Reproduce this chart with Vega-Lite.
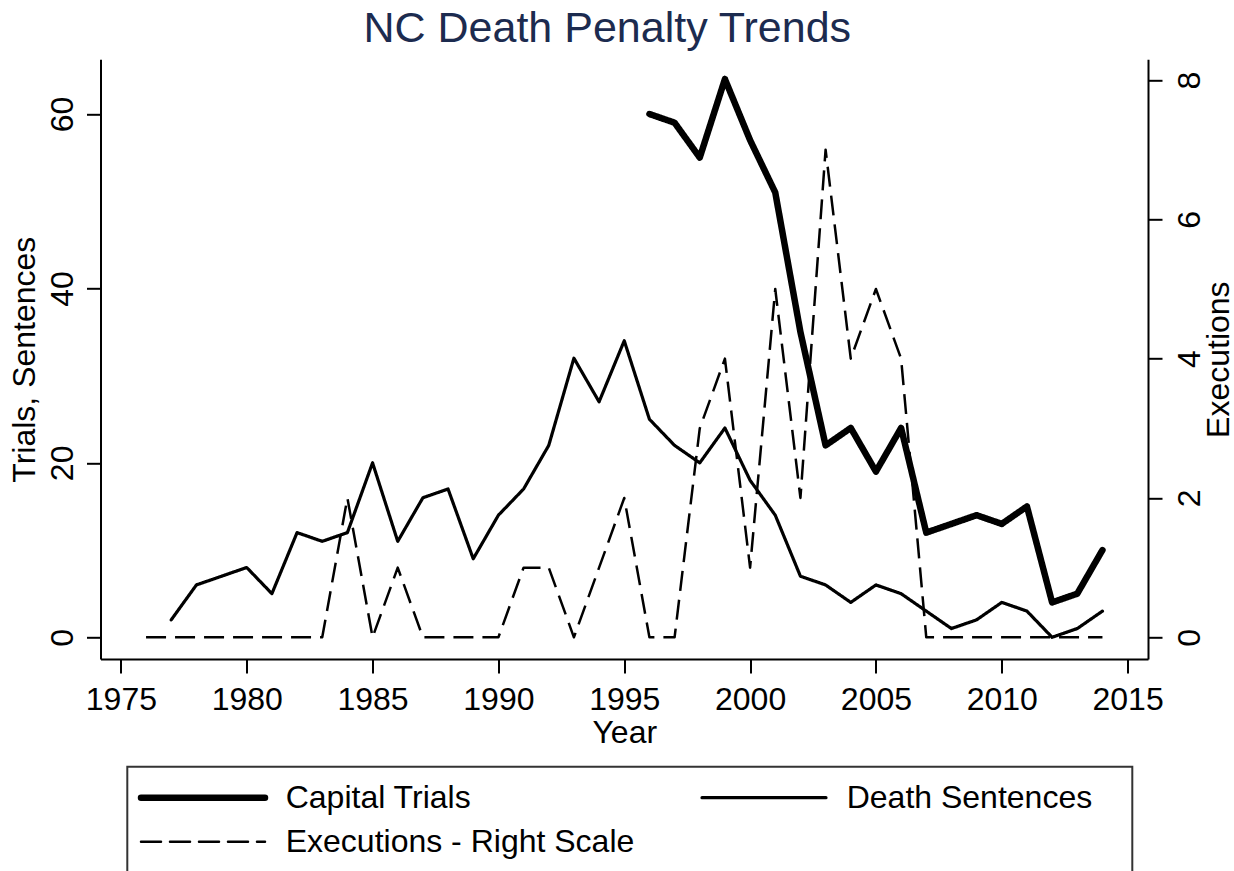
{
  "$schema": "https://vega.github.io/schema/vega-lite/v6.json",
  "width": 1047.5,
  "height": 599.7,
  "autosize": {"type": "none"},
  "padding": {"left": 100.5, "top": 59.3, "right": 86, "bottom": 212},
  "background": "white",
  "title": {
    "text": "NC Death Penalty Trends",
    "font": "Liberation Sans",
    "fontSize": 43,
    "fontWeight": "normal",
    "color": "#1c2b4f",
    "anchor": "middle",
    "frame": "group",
    "baseline": "alphabetic",
    "offset": -26,
    "dx": -17
  },
  "datasets": {
    "left": [
      {"year": 1996, "series": "Capital Trials", "value": 60},
      {"year": 1997, "series": "Capital Trials", "value": 59},
      {"year": 1998, "series": "Capital Trials", "value": 55},
      {"year": 1999, "series": "Capital Trials", "value": 64},
      {"year": 2000, "series": "Capital Trials", "value": 57},
      {"year": 2001, "series": "Capital Trials", "value": 51},
      {"year": 2002, "series": "Capital Trials", "value": 35},
      {"year": 2003, "series": "Capital Trials", "value": 22},
      {"year": 2004, "series": "Capital Trials", "value": 24},
      {"year": 2005, "series": "Capital Trials", "value": 19},
      {"year": 2006, "series": "Capital Trials", "value": 24},
      {"year": 2007, "series": "Capital Trials", "value": 12},
      {"year": 2008, "series": "Capital Trials", "value": 13},
      {"year": 2009, "series": "Capital Trials", "value": 14},
      {"year": 2010, "series": "Capital Trials", "value": 13},
      {"year": 2011, "series": "Capital Trials", "value": 15},
      {"year": 2012, "series": "Capital Trials", "value": 4},
      {"year": 2013, "series": "Capital Trials", "value": 5},
      {"year": 2014, "series": "Capital Trials", "value": 10},
      {"year": 1977, "series": "Death Sentences", "value": 2},
      {"year": 1978, "series": "Death Sentences", "value": 6},
      {"year": 1979, "series": "Death Sentences", "value": 7},
      {"year": 1980, "series": "Death Sentences", "value": 8},
      {"year": 1981, "series": "Death Sentences", "value": 5},
      {"year": 1982, "series": "Death Sentences", "value": 12},
      {"year": 1983, "series": "Death Sentences", "value": 11},
      {"year": 1984, "series": "Death Sentences", "value": 12},
      {"year": 1985, "series": "Death Sentences", "value": 20},
      {"year": 1986, "series": "Death Sentences", "value": 11},
      {"year": 1987, "series": "Death Sentences", "value": 16},
      {"year": 1988, "series": "Death Sentences", "value": 17},
      {"year": 1989, "series": "Death Sentences", "value": 9},
      {"year": 1990, "series": "Death Sentences", "value": 14},
      {"year": 1991, "series": "Death Sentences", "value": 17},
      {"year": 1992, "series": "Death Sentences", "value": 22},
      {"year": 1993, "series": "Death Sentences", "value": 32},
      {"year": 1994, "series": "Death Sentences", "value": 27},
      {"year": 1995, "series": "Death Sentences", "value": 34},
      {"year": 1996, "series": "Death Sentences", "value": 25},
      {"year": 1997, "series": "Death Sentences", "value": 22},
      {"year": 1998, "series": "Death Sentences", "value": 20},
      {"year": 1999, "series": "Death Sentences", "value": 24},
      {"year": 2000, "series": "Death Sentences", "value": 18},
      {"year": 2001, "series": "Death Sentences", "value": 14},
      {"year": 2002, "series": "Death Sentences", "value": 7},
      {"year": 2003, "series": "Death Sentences", "value": 6},
      {"year": 2004, "series": "Death Sentences", "value": 4},
      {"year": 2005, "series": "Death Sentences", "value": 6},
      {"year": 2006, "series": "Death Sentences", "value": 5},
      {"year": 2007, "series": "Death Sentences", "value": 3},
      {"year": 2008, "series": "Death Sentences", "value": 1},
      {"year": 2009, "series": "Death Sentences", "value": 2},
      {"year": 2010, "series": "Death Sentences", "value": 4},
      {"year": 2011, "series": "Death Sentences", "value": 3},
      {"year": 2012, "series": "Death Sentences", "value": 0},
      {"year": 2013, "series": "Death Sentences", "value": 1},
      {"year": 2014, "series": "Death Sentences", "value": 3}
    ],
    "right": [
      {"year": 1976, "series": "Executions - Right Scale", "value": 0},
      {"year": 1977, "series": "Executions - Right Scale", "value": 0},
      {"year": 1978, "series": "Executions - Right Scale", "value": 0},
      {"year": 1979, "series": "Executions - Right Scale", "value": 0},
      {"year": 1980, "series": "Executions - Right Scale", "value": 0},
      {"year": 1981, "series": "Executions - Right Scale", "value": 0},
      {"year": 1982, "series": "Executions - Right Scale", "value": 0},
      {"year": 1983, "series": "Executions - Right Scale", "value": 0},
      {"year": 1984, "series": "Executions - Right Scale", "value": 2},
      {"year": 1985, "series": "Executions - Right Scale", "value": 0},
      {"year": 1986, "series": "Executions - Right Scale", "value": 1},
      {"year": 1987, "series": "Executions - Right Scale", "value": 0},
      {"year": 1988, "series": "Executions - Right Scale", "value": 0},
      {"year": 1989, "series": "Executions - Right Scale", "value": 0},
      {"year": 1990, "series": "Executions - Right Scale", "value": 0},
      {"year": 1991, "series": "Executions - Right Scale", "value": 1},
      {"year": 1992, "series": "Executions - Right Scale", "value": 1},
      {"year": 1993, "series": "Executions - Right Scale", "value": 0},
      {"year": 1994, "series": "Executions - Right Scale", "value": 1},
      {"year": 1995, "series": "Executions - Right Scale", "value": 2},
      {"year": 1996, "series": "Executions - Right Scale", "value": 0},
      {"year": 1997, "series": "Executions - Right Scale", "value": 0},
      {"year": 1998, "series": "Executions - Right Scale", "value": 3},
      {"year": 1999, "series": "Executions - Right Scale", "value": 4},
      {"year": 2000, "series": "Executions - Right Scale", "value": 1},
      {"year": 2001, "series": "Executions - Right Scale", "value": 5},
      {"year": 2002, "series": "Executions - Right Scale", "value": 2},
      {"year": 2003, "series": "Executions - Right Scale", "value": 7},
      {"year": 2004, "series": "Executions - Right Scale", "value": 4},
      {"year": 2005, "series": "Executions - Right Scale", "value": 5},
      {"year": 2006, "series": "Executions - Right Scale", "value": 4},
      {"year": 2007, "series": "Executions - Right Scale", "value": 0},
      {"year": 2008, "series": "Executions - Right Scale", "value": 0},
      {"year": 2009, "series": "Executions - Right Scale", "value": 0},
      {"year": 2010, "series": "Executions - Right Scale", "value": 0},
      {"year": 2011, "series": "Executions - Right Scale", "value": 0},
      {"year": 2012, "series": "Executions - Right Scale", "value": 0},
      {"year": 2013, "series": "Executions - Right Scale", "value": 0},
      {"year": 2014, "series": "Executions - Right Scale", "value": 0}
    ]
  },
  "layer": [
    {
      "data": {"name": "left"},
      "mark": {"type": "line", "strokeCap": "round", "strokeJoin": "round", "color": "black"},
      "encoding": {
        "x": {
          "field": "year",
          "type": "quantitative",
          "scale": {"domain": [1974.19, 2015.81], "nice": false, "zero": false},
          "axis": {
            "values": [1975, 1980, 1985, 1990, 1995, 2000, 2005, 2010, 2015],
            "format": "d",
            "title": "Year",
            "labelAngle": 0,
            "labelAlign": "center",
            "labelBaseline": "alphabetic",
            "labelPadding": 36,
            "titleBaseline": "alphabetic",
            "titleAlign": "center",
            "titleX": 523.75,
            "titleY": 83
          }
        },
        "y": {
          "field": "value",
          "type": "quantitative",
          "scale": {"domain": [-2.49, 66.27], "nice": false, "zero": false},
          "axis": {
            "orient": "left",
            "values": [0, 20, 40, 60],
            "title": "Trials, Sentences",
            "labelAngle": 270,
            "labelAlign": "center",
            "labelBaseline": "alphabetic",
            "labelPadding": 14,
            "titleAngle": 270,
            "titleAlign": "center",
            "titleBaseline": "alphabetic",
            "titleX": -66,
            "titleY": 299.85
          }
        },
        "strokeDash": {
          "field": "series",
          "type": "nominal",
          "scale": {
            "domain": ["Capital Trials", "Death Sentences", "Executions - Right Scale"],
            "range": [[1, 0], [1, 0], [20, 9]]
          },
          "legend": {
            "title": " ",
            "titleOrient": "right",
            "titlePadding": 25,
            "titleFontSize": 32,
            "orient": "none",
            "direction": "horizontal",
            "legendX": 26.8,
            "legendY": 707.4,
            "columns": 2,
            "columnPadding": 60,
            "rowPadding": 12,
            "padding": 15,
            "strokeColor": "#333333",
            "symbolType": "M-6.2,0L6.2,0",
            "symbolSize": 400,
            "symbolOffset": 44.7,
            "symbolStrokeColor": "black",
            "labelOffset": 66.7,
            "labelFont": "Liberation Sans",
            "labelFontSize": 32,
            "labelColor": "black",
            "labelLimit": 600,
            "labelBaseline": "middle",
            "encode": {
              "symbols": {
                "update": {
                  "strokeWidth": {"signal": "datum.value === 'Capital Trials' ? 6.5 : datum.value === 'Death Sentences' ? 3.2 : 2.5"},
                  "strokeCap": {"value": "round"},
                  "stroke": {"value": "black"}
                }
              }
            }
          }
        },
        "strokeWidth": {
          "condition": {"test": "datum.series === 'Capital Trials'", "value": 6.5},
          "value": 3.2
        }
      }
    },
    {
      "data": {"name": "right"},
      "mark": {"type": "line", "strokeWidth": 2.5, "strokeCap": "butt", "strokeJoin": "round", "color": "black"},
      "encoding": {
        "x": {"field": "year", "type": "quantitative"},
        "y": {
          "field": "value",
          "type": "quantitative",
          "scale": {"domain": [-0.3115, 8.297], "nice": false, "zero": false},
          "axis": {
            "orient": "right",
            "values": [0, 2, 4, 6, 8],
            "title": "Executions",
            "labelAngle": 270,
            "labelAlign": "center",
            "labelBaseline": "alphabetic",
            "labelPadding": 37,
            "titleAngle": 270,
            "titleAlign": "center",
            "titleBaseline": "alphabetic",
            "titleX": 80,
            "titleY": 299.85
          }
        },
        "strokeDash": {"field": "series", "type": "nominal"}
      }
    }
  ],
  "resolve": {"scale": {"y": "independent"}},
  "config": {
    "view": {"stroke": null},
    "axis": {
      "domainColor": "black",
      "domainWidth": 2,
      "tickColor": "black",
      "tickWidth": 2,
      "tickSize": 14,
      "labelFont": "Liberation Sans",
      "labelFontSize": 32,
      "labelColor": "black",
      "titleFont": "Liberation Sans",
      "titleFontSize": 32,
      "titleFontWeight": "normal",
      "titleColor": "black",
      "grid": false,
      "labelFlush": false,
      "labelOverlap": false
    },
    "legend": {"strokeWidth": 2}
  }
}
